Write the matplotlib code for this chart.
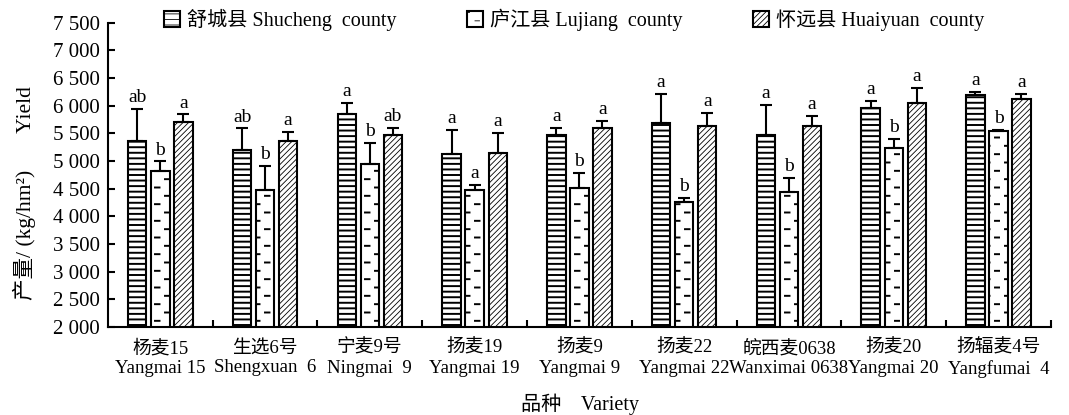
import warnings
warnings.filterwarnings("ignore")
import numpy as np
import matplotlib
matplotlib.use("Agg")
import matplotlib.pyplot as plt
from matplotlib.hatch import HatchPatternBase, _hatch_types
from matplotlib.path import Path

# ---------------- data ----------------
cn_names = ["杨麦15", "生选6号", "宁麦9号", "扬麦19", "扬麦9", "扬麦22", "皖西麦0638", "扬麦20", "扬辐麦4号"]
en_names = ["Yangmai 15", "Shengxuan  6", "Ningmai  9", "Yangmai 19", "Yangmai 9", "Yangmai 22",
            "Wanximai 0638", "Yangmai 20", "Yangfumai  4"]
series_names = ["舒城县 Shucheng  county", "庐江县 Lujiang  county", "怀远县 Huaiyuan  county"]

shucheng = [5370, 5200, 5846, 5130, 5473, 5684, 5473, 5955, 6195]
shucheng_err = [570, 392, 200, 433, 121, 529, 541, 132, 60]
lujiang = [4823, 4480, 4955, 4480, 4522, 4269, 4450, 5233, 5545]
lujiang_err = [170, 433, 379, 90, 259, 60, 241, 162, 24]
huaiyuan = [5713, 5370, 5473, 5154, 5605, 5641, 5641, 6056, 6123]
huaiyuan_err = [133, 162, 121, 349, 126, 235, 175, 271, 90]

shucheng_sig = ["ab", "ab", "a", "a", "a", "a", "a", "a", "a"]
lujiang_sig = ["b", "b", "b", "a", "b", "b", "b", "b", "b"]
huaiyuan_sig = ["a", "a", "ab", "a", "a", "a", "a", "a", "a"]

yticks = [2000, 2500, 3000, 3500, 4000, 4500, 5000, 5500, 6000, 6500, 7000, 7500]


# ---------------- custom short-dash hatch ----------------
class ShortDashHatch(HatchPatternBase):
    def __init__(self, hatch, density):
        self.rows = 12 if hatch.count('d') else 0
        self.cols = 5
        self.num_vertices = self.rows * self.cols * 2

    def set_vertices_and_codes(self, vertices, codes):
        k = 0
        for r in range(self.rows):
            y = (r + 0.5) / self.rows
            off = 0.1 * (r % 2)
            for c in range(self.cols):
                x0 = c * 0.2 + off + 0.05
                vertices[k] = (x0, y)
                vertices[k + 1] = (x0 + 0.045, y)
                codes[k] = Path.MOVETO
                codes[k + 1] = Path.LINETO
                k += 2


_hatch_types.append(ShortDashHatch)

FAM = ["Liberation Serif", "Noto Sans CJK SC"]
plt.rcParams["font.family"] = FAM
plt.rcParams["font.size"] = 13.5

fig = plt.figure(figsize=(10.69, 4.15), dpi=100)
ax = fig.add_axes([0.101, 0.212, 0.882, 0.733])

x = np.arange(len(cn_names))
w = 0.175
offs = [-0.22, 0.0, 0.22]
hatches = ["---", "d", "//////"]
hlw = [1.4, 1.4, 0.6]
vals_all = [shucheng, lujiang, huaiyuan]
errs_all = [shucheng_err, lujiang_err, huaiyuan_err]
sigs_all = [shucheng_sig, lujiang_sig, huaiyuan_sig]

handles = []
for i in range(3):
    plt.rcParams["hatch.linewidth"] = hlw[i]
    bars = ax.bar(x + offs[i], vals_all[i], width=w, bottom=0, color="white",
                  edgecolor="black", linewidth=1.5, hatch=hatches[i], zorder=2,
                  label=series_names[i])
    for p in bars:
        if hasattr(p, "set_hatch_linewidth"):
            p.set_hatch_linewidth(hlw[i])
    handles.append(bars)
    ax.errorbar(x + offs[i], vals_all[i], yerr=[np.zeros(len(x)), errs_all[i]],
                fmt="none", ecolor="black", elinewidth=1.5, capsize=4, capthick=1.5, zorder=3)
    for xi, v, e, s in zip(x + offs[i], vals_all[i], errs_all[i], sigs_all[i]):
        ax.annotate(s, (xi, v + e), xytext=(0, 2), textcoords="offset points",
                    ha="center", va="bottom", fontsize=14)

ax.set_xlim(-0.5, 8.5)
ax.set_ylim(2000, 7500)
ax.set_yticks(yticks)
ax.set_yticklabels([f"{v:,}".replace(",", " ") for v in yticks], fontsize=15)
ax.set_xticks(x)
ax.set_xticklabels([f"{c}\n{e}" for c, e in zip(cn_names, en_names)], linespacing=1.2, fontsize=13.5)
ax.set_xticks(np.arange(0.5, 9, 1), minor=True)
ax.tick_params(axis="x", which="major", length=0, pad=9)
ax.tick_params(axis="x", which="minor", direction="in", length=5, width=1.5)
ax.tick_params(axis="y", direction="in", length=5, width=1.5, pad=6)
for s in ["top", "right"]:
    ax.spines[s].set_visible(False)
for s in ["left", "bottom"]:
    ax.spines[s].set_linewidth(1.5)

fig.text(0.543, 0.025, "品种    Variety", ha="center", va="center", fontsize=14.5)
fig.text(0.023, 0.535, "产量/ (kg/hm²)       Yield", rotation=90, ha="center", va="center", fontsize=15.5)

fig.legend(handles=handles, labels=series_names, loc="center", bbox_to_anchor=(0.537, 0.952),
           ncol=3, frameon=False, handlelength=0.8, handleheight=0.8, handletextpad=0.35,
           columnspacing=3.5, fontsize=14.5)

fig.savefig("out.png", dpi=100)
